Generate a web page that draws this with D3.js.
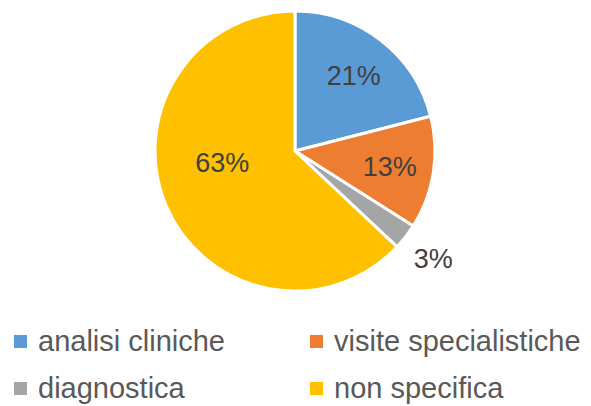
<!DOCTYPE html>
<html><head><meta charset="utf-8">
<script src="https://cdn.jsdelivr.net/npm/d3@7"></script>
<style>body{margin:0;background:#fff}svg{display:block}</style>
</head><body>
<script>
const categories = ["analisi cliniche", "visite specialistiche", "diagnostica", "non specifica"];
const values = [21, 13, 3, 63];
const labels = ["21%", "13%", "3%", "63%"];
const colors = ["#5B9BD5", "#ED7D31", "#A5A5A5", "#FFC000"];

const W = 591, H = 406, cx = 295, cy = 151, R = 140;
const svg = d3.select("body").append("svg").attr("width", W).attr("height", H);
const font = "'Liberation Sans', Arial, sans-serif";

const pie = d3.pie().sort(null).value(d => d)(values);
const arc = d3.arc().innerRadius(0).outerRadius(R);
const inArc = d3.arc().innerRadius(96).outerRadius(96);
const outArc = d3.arc().innerRadius(175).outerRadius(175);

const g = svg.append("g").attr("transform", `translate(${cx},${cy})`);
g.selectAll("path").data(pie).join("path")
  .attr("d", arc).attr("fill", (d, i) => colors[i])
  .attr("stroke", "#fff").attr("stroke-width", 3).attr("stroke-linejoin", "round");

g.selectAll("text").data(pie).join("text")
  .attr("transform", (d, i) => {
    let p;
    if (d.value > 50) p = [-0.52 * R, 0.08 * R];
    else if (d.value < 5) p = outArc.centroid(d);
    else p = inArc.centroid(d);
    return `translate(${p[0]},${p[1]})`;
  })
  .attr("text-anchor", "middle").attr("dy", "0.36em")
  .attr("font-family", font).attr("font-size", 27).attr("fill", "#404040")
  .text((d, i) => labels[i]);

const cols = [14, 310], rows = [351, 398];
const lg = svg.append("g");
categories.forEach((c, i) => {
  const x = cols[i % 2], y = rows[Math.floor(i / 2)];
  lg.append("rect").attr("x", x).attr("y", y - 16).attr("width", 13).attr("height", 13).attr("fill", colors[i]);
  lg.append("text").attr("x", x + 24).attr("y", y)
    .attr("font-family", font).attr("font-size", 29).attr("fill", "#595959").text(c);
});
</script>
</body></html>
